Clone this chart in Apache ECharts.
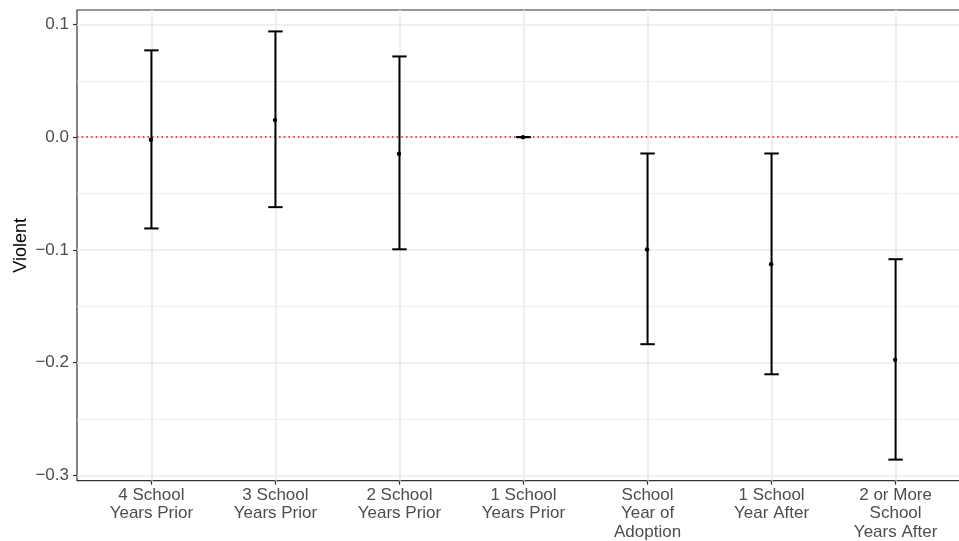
<!DOCTYPE html>
<html>
<head>
<meta charset="utf-8">
<script src="https://cdn.jsdelivr.net/npm/echarts@6/dist/echarts.min.js"></script>
<style>html,body{margin:0;padding:0;background:#fff;}#c{width:959px;height:541px;}</style>
</head>
<body>
<div id="c"></div>
<script>
const categories = ["4 School\nYears Prior", "3 School\nYears Prior", "2 School\nYears Prior", "1 School\nYears Prior", "School\nYear of\nAdoption", "1 School\nYear After", "2 or More\nSchool\nYears After"];
const estimates = [-0.0023, 0.0151, -0.0147, 0.0, -0.0997, -0.1127, -0.1976];
const lowerCI = [-0.0810, -0.0621, -0.0995, 0.0, -0.1837, -0.2104, -0.2861];
const upperCI = [0.0770, 0.0938, 0.0716, 0.0, -0.0145, -0.0145, -0.1083];
const yTicks = [-0.3, -0.2, -0.1, 0.0, 0.1];
const yMinorTicks = [-0.25, -0.15, -0.05, 0.05];
const yTitle = "Violent";
const zeroLine = 0;

const catIdx = categories.map((c, i) => i);
const data = catIdx.map(i => [i, lowerCI[i], upperCI[i], estimates[i]]);

const gridLines = [];
yMinorTicks.forEach(v => gridLines.push({yAxis: v, lineStyle: {color: '#EBEBEB', width: 0.9, type: 'solid'}}));
yTicks.forEach(v => gridLines.push({yAxis: v, lineStyle: {color: '#EBEBEB', width: 1.6, type: 'solid'}}));
catIdx.forEach(v => gridLines.push({xAxis: v, lineStyle: {color: '#EBEBEB', width: 1.6, type: 'solid'}}));

const font = 'Liberation Sans, Arial, sans-serif';
const chart = echarts.init(document.getElementById('c'), null, {renderer: 'canvas'});
chart.setOption({
  animation: false,
  backgroundColor: '#fff',
  grid: {left: 77, top: 10, width: 893, height: 470.7, outerBoundsMode: 'none', containLabel: false,
    show: true, borderColor: '#333', borderWidth: 1.2, backgroundColor: 'transparent'},
  xAxis: {
    type: 'value', min: -0.6, max: 6.6,
    axisLine: {show: false, onZero: false},
    splitLine: {show: false},
    axisTick: {show: true, customValues: catIdx, length: 4, lineStyle: {color: '#333', width: 1.2}},
    axisLabel: {customValues: catIdx, margin: 5, color: '#4D4D4D', fontSize: 17, lineHeight: 18.5, fontFamily: font,
      formatter: v => categories[Math.round(v)]}
  },
  yAxis: {
    type: 'value', min: -0.3048, max: 0.1128,
    name: yTitle, nameLocation: 'middle', nameGap: 47, nameRotate: 90, nameMoveOverlap: false,
    nameTextStyle: {color: '#000', fontSize: 18, fontFamily: font},
    axisLine: {show: false, onZero: false},
    splitLine: {show: false},
    axisTick: {show: true, customValues: yTicks, length: 4, lineStyle: {color: '#333', width: 1.2}},
    axisLabel: {customValues: yTicks, margin: 8, color: '#4D4D4D', fontSize: 17, fontFamily: font,
      formatter: v => v.toFixed(1).replace('-', '\u2212')}
  },
  series: [
    {
      type: 'line', data: [], z: 1, silent: true,
      markLine: {silent: true, symbol: 'none', label: {show: false}, animation: false, data: gridLines}
    },
    {
      type: 'line', data: [], z: 2, silent: true,
      markLine: {silent: true, symbol: 'none', label: {show: false}, animation: false,
        data: [{yAxis: zeroLine, lineStyle: {color: '#FF0000', width: 1.5, type: [1.5, 3.2]}}]}
    },
    {
      type: 'custom', z: 5,
      data: data,
      renderItem: function (params, api) {
        const x = api.value(0);
        const lo = api.coord([x, api.value(1)]);
        const hi = api.coord([x, api.value(2)]);
        const pt = api.coord([x, api.value(3)]);
        const capL = api.coord([x - 0.05, api.value(1)])[0] - 1;
        const capR = api.coord([x + 0.05, api.value(1)])[0] + 1;
        const st = {stroke: '#000', lineWidth: 2};
        return {
          type: 'group',
          children: [
            {type: 'line', shape: {x1: lo[0], y1: lo[1], x2: hi[0], y2: hi[1]}, style: st},
            {type: 'line', shape: {x1: capL, y1: lo[1], x2: capR, y2: lo[1]}, style: st},
            {type: 'line', shape: {x1: capL, y1: hi[1], x2: capR, y2: hi[1]}, style: st},
            {type: 'circle', shape: {cx: pt[0] - 0.5, cy: pt[1], r: 2.2}, style: {fill: '#000'}}
          ]
        };
      }
    }
  ]
});
</script>
</body>
</html>
